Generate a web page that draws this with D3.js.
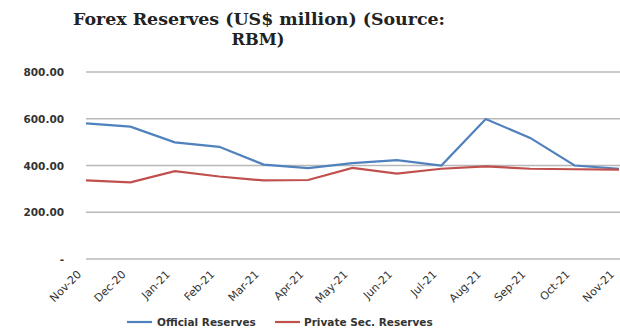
<!DOCTYPE html>
<html><head><meta charset="utf-8">
<script src="https://cdn.jsdelivr.net/npm/d3@7"></script>
<style>body{margin:0;background:#fff}</style>
</head><body>
<svg id="c" width="620" height="332"></svg>
<script>
const categories = ["Nov-20","Dec-20","Jan-21","Feb-21","Mar-21","Apr-21","May-21","Jun-21","Jul-21","Aug-21","Sep-21","Oct-21","Nov-21"];
const officialReserves = [580,566,499,480,404,389,410,423,400,599,518,400,386];
const privateReserves = [336,328,376,353,336,338,390,365,386,396,386,384,382];
const yTicks = [0,200,400,600,800];
const seriesNames = ["Official Reserves","Private Sec. Reserves"];
const colors = ["#4F81BD","#C0504D"];

const svg = d3.select("#c");
const x = d3.scalePoint().domain(categories).range([86,619]);
const y = d3.scaleLinear().domain([0,800]).range([259,72]);

svg.append("text").attr("x",259).attr("y",25).attr("text-anchor","middle")
  .attr("font-family","DejaVu Serif").attr("font-weight","bold").attr("font-size",17)
  .attr("textLength",372).attr("lengthAdjust","spacingAndGlyphs")
  .attr("fill","#222").text("Forex Reserves (US$ million) (Source:");
svg.append("text").attr("x",258).attr("y",45).attr("text-anchor","middle")
  .attr("font-family","DejaVu Serif").attr("font-weight","bold").attr("font-size",17)
  .attr("textLength",53).attr("lengthAdjust","spacingAndGlyphs")
  .attr("fill","#222").text("RBM)");

// grid
svg.append("g").selectAll("line").data(yTicks).join("line")
  .attr("x1",86).attr("x2",625).attr("y1",d=>y(d)).attr("y2",d=>y(d))
  .attr("stroke","#b8b8b8").attr("stroke-width",1.5);

// y labels
svg.append("g").selectAll("text").data(yTicks).join("text")
  .attr("x",64).attr("y",d=>y(d)+4).attr("text-anchor","end")
  .attr("font-family","DejaVu Sans").attr("font-weight","bold").attr("font-size",10.5).attr("fill","#333")
  .text(d=>d===0?"-":d3.format(".2f")(d));

// x labels
svg.append("g").selectAll("text").data(categories).join("text")
  .attr("transform",d=>`translate(${x(d)-4},${275}) rotate(-45)`)
  .attr("text-anchor","end").attr("font-family","DejaVu Sans").attr("font-size",11).attr("fill","#333")
  .text(d=>d);

const line = d3.line().x((d,i)=>x(categories[i])).y(d=>y(d));
[officialReserves,privateReserves].forEach((s,k)=>{
  svg.append("path").attr("d",line(s)).attr("fill","none").attr("stroke",colors[k]).attr("stroke-width",2.2);
});

// legend
const lg = [{x:127,tx:157},{x:275,tx:304}];
seriesNames.forEach((n,k)=>{
  svg.append("line").attr("x1",lg[k].x).attr("x2",lg[k].x+25).attr("y1",322).attr("y2",322)
    .attr("stroke",colors[k]).attr("stroke-width",2.2);
  svg.append("text").attr("x",lg[k].tx).attr("y",326).attr("font-family","DejaVu Sans").attr("font-weight","bold")
    .attr("font-size",10.5).attr("fill","#333").text(n);
});
</script>
</body></html>
